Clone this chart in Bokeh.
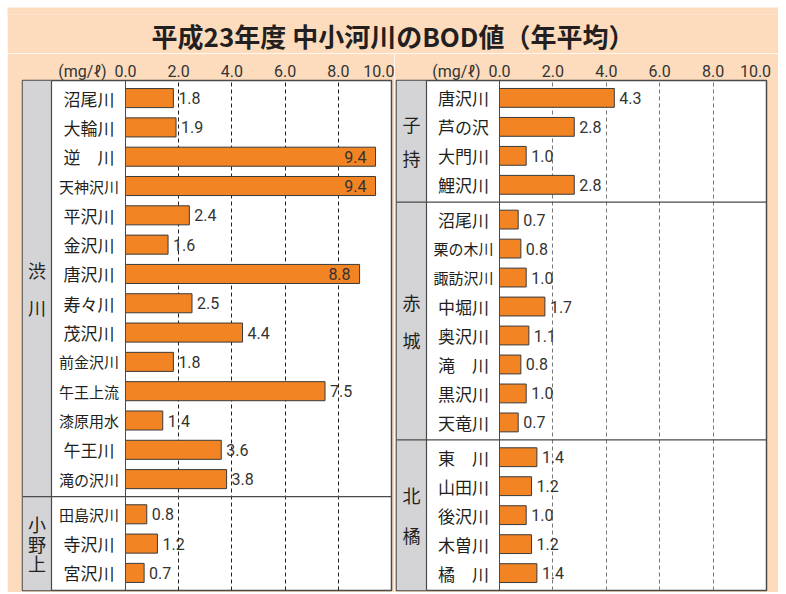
from bokeh.plotting import figure
from bokeh.models import ColumnDataSource, Range1d, FixedTicker, Span, BoxAnnotation
from bokeh.layouts import column, row
from bokeh.embed import file_html
from bokeh.resources import INLINE
from bokeh.core.properties import value

# ---------------- data ----------------
TITLE = "平成23年度 中小河川のBOD値（年平均）"
UNIT = "(mg/ℓ)"
TICKS = [0, 2, 4, 6, 8, 10]
TICK_LABELS = ["0.0", "2.0", "4.0", "6.0", "8.0", "10.0"]

shibukawa_names = ["沼尾川", "大輪川", "逆　川", "天神沢川", "平沢川", "金沢川", "唐沢川",
                   "寿々川", "茂沢川", "前金沢川", "午王上流", "漆原用水", "午王川", "滝の沢川"]
shibukawa_vals = [1.8, 1.9, 9.4, 9.4, 2.4, 1.6, 8.8, 2.5, 4.4, 1.8, 7.5, 1.4, 3.6, 3.8]

onogami_names = ["田島沢川", "寺沢川", "宮沢川"]
onogami_vals = [0.8, 1.2, 0.7]

komochi_names = ["唐沢川", "芦の沢", "大門川", "鯉沢川"]
komochi_vals = [4.3, 2.8, 1.0, 2.8]

akagi_names = ["沼尾川", "栗の木川", "諏訪沢川", "中堀川", "奥沢川", "滝　川", "黒沢川", "天竜川"]
akagi_vals = [0.7, 0.8, 1.0, 1.7, 1.1, 0.8, 1.0, 0.7]

hokkitsu_names = ["東　川", "山田川", "後沢川", "木曽川", "橘　川"]
hokkitsu_vals = [1.4, 1.2, 1.0, 1.2, 1.4]

left_groups = [("渋川", shibukawa_names, shibukawa_vals),
               ("小野上", onogami_names, onogami_vals)]
right_groups = [("子持", komochi_names, komochi_vals),
                ("赤城", akagi_names, akagi_vals),
                ("北橘", hokkitsu_names, hokkitsu_vals)]

# ---------------- style ----------------
PEACH = "#FDDCBE"
ORANGE = "#F38424"
GRAY = "#D4D4D6"
LINE = "#4a4a4a"
TXT = "#231F20"
CJK = "Noto Sans CJK JP"
NUM = "Roboto"
PAD = 0.1          # padding (in row units) at the top/bottom of each group
BAR_H = 0.65
TOP_BORDER = 27
PANEL_H = 539


def make_panel(groups, width, bl, br, bb, label_px, gray_px, grid_color, line_heights):
    frame_w = width - bl - br
    ppu = (frame_w - label_px) / 10.0
    x0 = -label_px / ppu
    gray_edge = x0 + gray_px / ppu
    label_x = gray_edge / 2.0 + 0.02
    group_x = (x0 + gray_edge) / 2.0

    n = sum(len(g[1]) for g in groups)
    total = n + 2 * PAD * len(groups)

    ys, names, vals, bounds, gcent = [], [], [], [], []
    cur = total
    for gi, (gname, nm, vl) in enumerate(groups):
        top = cur
        cur -= PAD
        for a, b in zip(nm, vl):
            ys.append(cur - 0.5)
            names.append(a)
            vals.append(b)
            cur -= 1
        cur -= PAD
        gcent.append((top + cur) / 2.0)
        if gi < len(groups) - 1:
            bounds.append(cur)

    p = figure(width=width, height=PANEL_H, x_range=Range1d(x0, 10), y_range=Range1d(0, total),
               x_axis_location="above", y_axis_location=None, toolbar_location=None,
               output_backend="svg", min_border_left=bl, min_border_right=br,
               min_border_top=TOP_BORDER, min_border_bottom=bb)
    p.border_fill_color = PEACH
    p.background_fill_color = "white"
    p.outline_line_color = LINE
    p.outline_line_width = 1.5

    # axis: value ticks (the last label sits just inside the frame edge) + unit label
    shift = 11.0 / ppu
    pos = [t if t < 10 else t - shift for t in TICKS]
    unit_pos = -43.0 / ppu
    ax = p.xaxis[0]
    ax.ticker = FixedTicker(ticks=[unit_pos] + pos)
    overrides = {k: v for k, v in zip(pos, TICK_LABELS)}
    overrides[unit_pos] = UNIT
    ax.major_label_overrides = overrides
    ax.axis_line_color = None
    ax.major_tick_line_color = None
    ax.minor_tick_line_color = None
    ax.major_tick_in = 0
    ax.major_tick_out = 0
    ax.major_label_standoff = 0
    ax.major_label_text_font = NUM
    ax.major_label_text_font_size = "16px"
    ax.major_label_text_color = "#333333"

    p.xgrid.ticker = FixedTicker(ticks=[2, 4, 6, 8])
    p.xgrid.grid_line_dash = "4 3"
    p.xgrid.grid_line_color = grid_color
    p.xgrid.grid_line_width = 1
    p.ygrid.visible = False

    p.add_layout(BoxAnnotation(right=gray_edge, fill_color=GRAY, fill_alpha=1,
                               line_color=None, level="underlay"))
    p.add_layout(Span(location=gray_edge, dimension="height", line_color=LINE, line_width=1.2))
    p.add_layout(Span(location=0, dimension="height", line_color=LINE, line_width=1))
    for b in bounds:
        p.add_layout(Span(location=b, dimension="width", line_color=LINE, line_width=1.3))

    src = ColumnDataSource(dict(y=ys, v=vals, name=names,
                                fs=["15px" if len(s) >= 4 else "17px" for s in names]))
    p.hbar(y="y", left=0, right="v", height=BAR_H, source=src, fill_color=ORANGE,
           line_color="#3a3a3a", line_width=1)

    p.text(x=label_x, y="y", text="name", source=src, text_align="center",
           text_baseline="middle", text_font=value(CJK), text_font_size="fs", text_color=TXT)

    out_y = [y for y, v in zip(ys, vals) if v < 8.5]
    out_v = [v for v in vals if v < 8.5]
    in_y = [y for y, v in zip(ys, vals) if v >= 8.5]
    in_v = [v for v in vals if v >= 8.5]
    p.text(x=out_v, y=out_y, text=["%.1f" % v for v in out_v], x_offset=5,
           text_align="left", text_baseline="middle", text_font=value(NUM),
           text_font_size="16px", text_color="#333333")
    if in_v:
        p.text(x=in_v, y=in_y, text=["%.1f" % v for v in in_v], x_offset=-9,
               text_align="right", text_baseline="middle", text_font=value(NUM),
               text_font_size="16px", text_color="#333333")

    for (gname, _, _), gc, lh in zip(groups, gcent, line_heights):
        p.text(x=[group_x], y=[gc], text=["\n".join(gname)], text_align="center",
               text_baseline="middle", text_font=value(CJK), text_font_size="18px",
               text_line_height=lh, text_color=TXT)
    return p


left = make_panel(left_groups, 387, 15, 3, 2, 103, 29, "#222222", [1.45, 0.76])
right = make_panel(right_groups, 384, 2, 12, 1, 103, 30, "#777777", [1.3, 1.45, 1.55])

# title strip spanning both panels (title drawn below an empty frame so it sits low)
t = figure(width=771, height=46, x_range=Range1d(0, 1), y_range=Range1d(0, 1),
           toolbar_location=None, output_backend="svg", min_border=0,
           x_axis_location=None, y_axis_location=None, title=TITLE,
           title_location="below")
t.outline_line_color = None
t.background_fill_color = PEACH
t.border_fill_color = PEACH
t.grid.visible = False
t.title.align = "center"
t.title.text_font = CJK
t.title.text_font_style = "bold"
t.title.text_font_size = "26px"
t.title.text_color = TXT
t.title.offset = 0
t.title.standoff = 0

layout = column(t, row(left, right, spacing=0), spacing=0, margin=(7, 0, 0, 7))

with open("out.html", "w") as f:
    f.write(file_html(layout, INLINE, "BOD"))
